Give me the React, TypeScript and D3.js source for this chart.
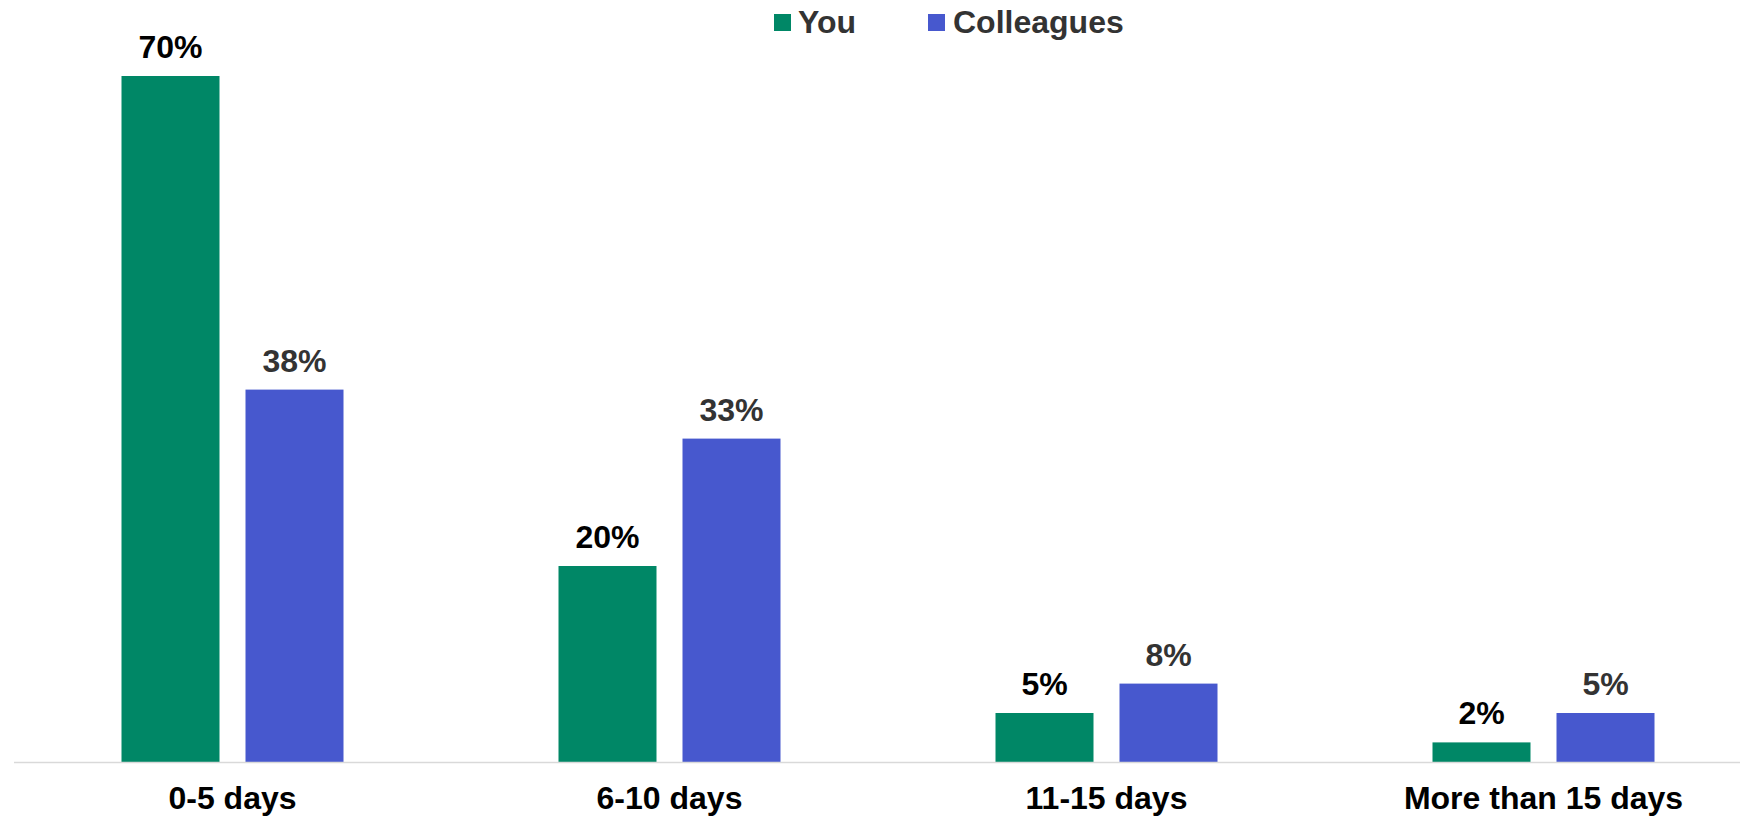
import React from "react";
import * as d3 from "d3";

const categories = ["0-5 days", "6-10 days", "11-15 days", "More than 15 days"];
const seriesNames = ["You", "Colleagues"];
const youValues = [70, 20, 5, 2];
const colleaguesValues = [38, 33, 8, 5];
const seriesColors = ["#008766", "#4758CE"];
const labelColors = ["#000000", "#333333"];

const W = 1740;
const H = 816;
const FONT = "'Liberation Sans', Arial, sans-serif";

export default function App() {
  const x = d3.scaleBand<string>().domain(categories).range([14, 1762]).paddingInner(0).paddingOuter(0);
  const y = d3.scaleLinear().domain([0, 70]).range([762, 76]);
  const inner = d3.scaleBand<string>().domain(seriesNames).range([-111, 111]).paddingInner(26 / 124).paddingOuter(0);
  const series = [youValues, colleaguesValues];

  return (
    <svg width={W} height={H} style={{ position: "absolute", left: 0, top: 0, display: "block" }} fontFamily={FONT}>
      <rect width={W} height={H} fill="#ffffff" />
      {categories.map((c, i) => {
        const cx = (x(c) as number) + x.bandwidth() / 2;
        return (
          <g key={c}>
            {seriesNames.map((s, si) => {
              const v = series[si][i];
              const bx = cx + (inner(s) as number);
              const bw = inner.bandwidth();
              return (
                <g key={s}>
                  <rect x={bx} y={y(v)} width={bw} height={y(0) - y(v)} fill={seriesColors[si]} />
                  <text x={bx + bw / 2} y={y(v) - 18} textAnchor="middle" fontSize={32} fontWeight="bold" fill={labelColors[si]}>
                    {v}%
                  </text>
                </g>
              );
            })}
            <text x={cx} y={809} textAnchor="middle" fontSize={32} fontWeight="bold" fill="#000000">
              {c}
            </text>
          </g>
        );
      })}
      <line x1={14} x2={W} y1={762.5} y2={762.5} stroke="#d9d9d9" strokeWidth={1.5} />
      <g>
        <rect x={774} y={14} width={17} height={17} fill={seriesColors[0]} />
        <text x={798} y={33} fontSize={32} fontWeight="bold" fill="#333333">{seriesNames[0]}</text>
        <rect x={928} y={14} width={17} height={17} fill={seriesColors[1]} />
        <text x={953} y={33} fontSize={32} fontWeight="bold" fill="#333333">{seriesNames[1]}</text>
      </g>
    </svg>
  );
}
